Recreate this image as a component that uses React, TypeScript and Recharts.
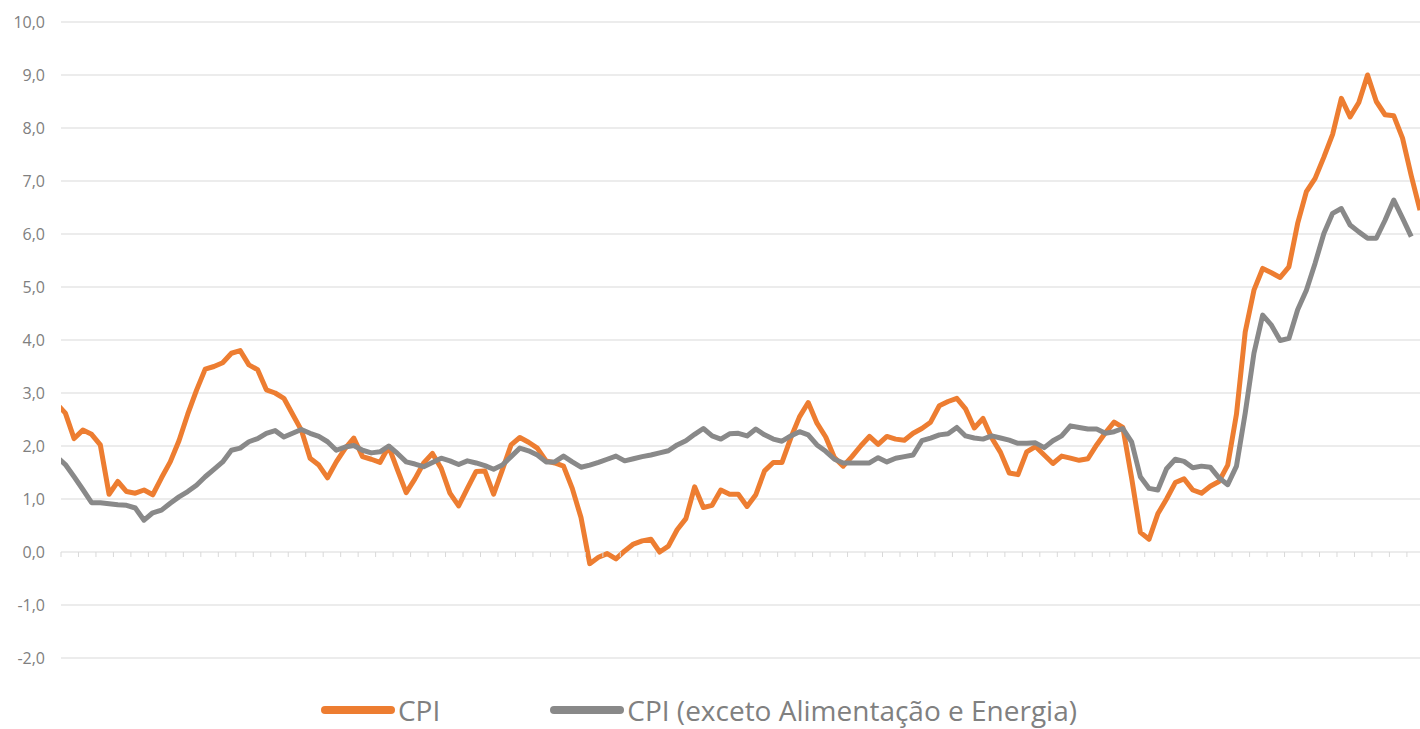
import { CartesianGrid, Legend, Line, LineChart, XAxis, YAxis } from 'recharts'

// monthly yoy inflation, Dec/2009 .. Dec/2022 (index 0 = Dec/2009)
const startYear = 2009
const startMonth = 11

const cpi = [
  2.8, 2.62, 2.14, 2.3, 2.22, 2.02, 1.09, 1.33, 1.14, 1.11, 1.17, 1.08,
  1.4, 1.7, 2.1, 2.6, 3.05, 3.45, 3.5, 3.57, 3.75, 3.8, 3.53, 3.44,
  3.06, 3.0, 2.9, 2.6, 2.3, 1.77, 1.64, 1.4, 1.7, 1.95, 2.15, 1.8,
  1.75, 1.69, 1.99, 1.55, 1.12, 1.38, 1.68, 1.86, 1.58, 1.11, 0.87, 1.2,
  1.52, 1.53, 1.09, 1.55, 2.02, 2.16, 2.07, 1.96, 1.72, 1.68, 1.62, 1.2,
  0.65, -0.22, -0.1, -0.03, -0.13, 0.02, 0.15, 0.21, 0.24, 0.0, 0.11, 0.42,
  0.63, 1.23, 0.84, 0.88, 1.17, 1.09, 1.09, 0.86, 1.08, 1.53, 1.69, 1.69,
  2.15, 2.55, 2.82, 2.43, 2.17, 1.78, 1.62, 1.8, 2.0, 2.18, 2.03, 2.18,
  2.13, 2.11, 2.24, 2.33, 2.45, 2.76, 2.84, 2.9, 2.7, 2.34, 2.52, 2.15,
  1.88, 1.49, 1.46, 1.89, 1.99, 1.83, 1.67, 1.81, 1.77, 1.73, 1.76, 2.02,
  2.25, 2.45, 2.35, 1.4, 0.37, 0.24, 0.72, 1.0, 1.31, 1.38, 1.17, 1.11,
  1.24, 1.33, 1.64, 2.6, 4.15, 4.94, 5.35, 5.27, 5.18, 5.38, 6.2, 6.8,
  7.05, 7.45, 7.88, 8.56, 8.21, 8.48, 9.0, 8.5, 8.25, 8.23, 7.81, 7.1,
  6.45,
]

const core = [
  1.8, 1.65, 1.42, 1.18, 0.93, 0.93, 0.91, 0.89, 0.88, 0.83, 0.6, 0.74,
  0.79, 0.92, 1.04, 1.14, 1.26, 1.42, 1.56, 1.7, 1.92, 1.96, 2.08, 2.14,
  2.24, 2.29, 2.17, 2.24, 2.31, 2.24, 2.18, 2.08, 1.92, 1.98, 2.01, 1.92,
  1.87, 1.89, 2.0, 1.86, 1.7, 1.66, 1.61, 1.69, 1.77, 1.72, 1.65, 1.72,
  1.68, 1.63, 1.56, 1.64, 1.8, 1.96, 1.91, 1.83, 1.7, 1.7, 1.81, 1.7,
  1.6, 1.64, 1.69, 1.75, 1.81, 1.72, 1.76, 1.8, 1.83, 1.87, 1.91, 2.02,
  2.1, 2.22, 2.33, 2.19, 2.13, 2.23, 2.24, 2.19, 2.32, 2.21, 2.13, 2.09,
  2.19, 2.27, 2.21, 2.02, 1.9, 1.75, 1.68, 1.68, 1.68, 1.68, 1.78, 1.7,
  1.77, 1.8, 1.83, 2.1, 2.15, 2.21, 2.23, 2.35, 2.19, 2.15, 2.13, 2.19,
  2.15, 2.11, 2.05, 2.05, 2.06, 1.97, 2.1, 2.19, 2.38, 2.35, 2.32, 2.32,
  2.24, 2.27, 2.33, 2.08, 1.42, 1.2, 1.17, 1.57, 1.75, 1.71, 1.59, 1.62,
  1.6, 1.4, 1.27, 1.62, 2.62, 3.75, 4.47, 4.28, 3.99, 4.03, 4.57, 4.94,
  5.45, 6.01, 6.39, 6.48, 6.17, 6.04, 5.92, 5.92, 6.26, 6.64, 6.3, 5.95,
  null,
]

const yTicks = [-2, -1, 0, 1, 2, 3, 4, 5, 6, 7, 8, 9, 10]
const Y_MIN = -2
const Y_MAX = 10

const monthNames = ['jan', 'fev', 'mar', 'abr', 'mai', 'jun', 'jul', 'ago', 'set', 'out', 'nov', 'dez']

const data = cpi.map((value, i) => {
  const m = startMonth + i
  const year = startYear + Math.floor(m / 12)
  return {
    i,
    month: `${monthNames[m % 12]}/${String(year).slice(2)}`,
    cpi: value,
    core: core[i],
  }
})

// tick marks every two months, placed between categories
const xTicks = data.filter((d) => d.i % 2 === 0 && d.i < 156).map((d) => d.i + 0.5)

const WIDTH = 1420
const HEIGHT = 729
const X_AXIS_HEIGHT = 1
const MARGIN = { top: 22, right: 0, bottom: 0, left: 0 }
const LEGEND_HEIGHT = 70
const PLOT_HEIGHT = HEIGHT - MARGIN.top - MARGIN.bottom - LEGEND_HEIGHT - X_AXIS_HEIGHT
const ZERO_Y = MARGIN.top + (PLOT_HEIGHT * (Y_MAX - 0)) / (Y_MAX - Y_MIN)

const GRID = '#d9d9d9'
const TEXT = '#808080'
const FONT = '"Open Sans", "Noto Sans", sans-serif'

function ZeroTick({ x }: { x: number }) {
  return <line x1={x} x2={x} y1={ZERO_Y} y2={ZERO_Y + 5} stroke={GRID} strokeWidth={1} />
}

function LegendContent({ payload }: any) {
  return (
    <div style={{ height: LEGEND_HEIGHT, position: 'relative', fontFamily: FONT }}>
      <div
        style={{
          position: 'absolute',
          top: 34,
          left: 0,
          width: '100%',
          boxSizing: 'border-box',
          paddingRight: 22,
          display: 'flex',
          justifyContent: 'center',
          alignItems: 'center',
          gap: 110,
        }}
      >
        {(payload || []).map((item: any) => (
          <div key={item.value} style={{ display: 'flex', alignItems: 'center', gap: 3 }}>
            <span
              style={{
                display: 'inline-block',
                width: 74,
                height: 8,
                borderRadius: 4,
                background: item.color,
              }}
            />
            <span style={{ fontSize: 28, color: TEXT, lineHeight: '34px', whiteSpace: 'nowrap' }}>{item.value}</span>
          </div>
        ))}
      </div>
    </div>
  )
}

export default function App() {
  return (
    <div style={{ position: 'absolute', left: 0, top: 0, width: WIDTH, height: HEIGHT, background: '#fff' }}>
      <LineChart width={WIDTH} height={HEIGHT} data={data} margin={MARGIN}>
        <CartesianGrid stroke={GRID} vertical={false} />
        <XAxis
          dataKey="i"
          type="number"
          domain={[0.5, 156]}
          allowDataOverflow
          ticks={xTicks}
          interval={0}
          axisLine={false}
          tickLine={false}
          tick={(props: any) => <ZeroTick key={props.index} x={props.x} />}
          height={X_AXIS_HEIGHT}
        />
        <YAxis
          domain={[Y_MIN, Y_MAX]}
          ticks={yTicks}
          interval={0}
          axisLine={false}
          tickLine={false}
          tickMargin={10}
          width={61}
          tick={{ fill: TEXT, fontSize: 16, fontFamily: FONT }}
          tickFormatter={(v: number) => v.toFixed(1).replace('.', ',')}
        />
        <Legend verticalAlign="bottom" height={LEGEND_HEIGHT} wrapperStyle={{ left: 0, width: WIDTH }} content={LegendContent} />
        <Line
          dataKey="cpi"
          name="CPI"
          stroke="#ED7D31"
          strokeWidth={5}
          strokeLinejoin="round"
          dot={false}
          type="linear"
          isAnimationActive={false}
        />
        <Line
          dataKey="core"
          name="CPI (exceto Alimentação e Energia)"
          stroke="#898989"
          strokeWidth={5}
          strokeLinejoin="round"
          dot={false}
          type="linear"
          isAnimationActive={false}
        />
      </LineChart>
    </div>
  )
}
